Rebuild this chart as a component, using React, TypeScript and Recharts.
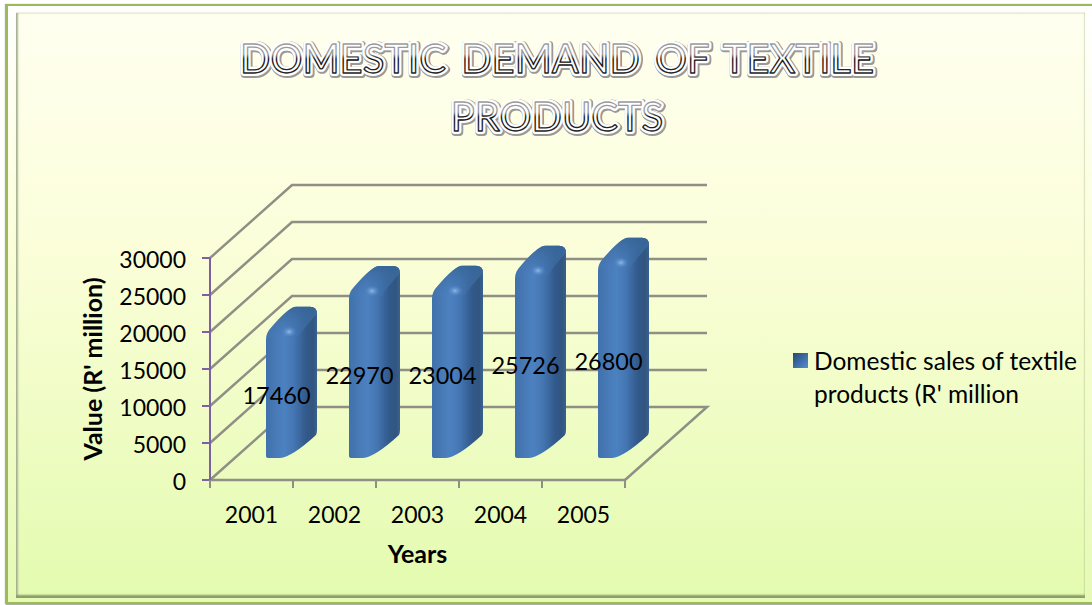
import React from "react";
import {
  BarChart,
  Bar,
  XAxis,
  YAxis,
  CartesianGrid,
  Legend,
  LabelList,
} from "recharts";

const years: string[] = ["2001", "2002", "2003", "2004", "2005"];
const sales: number[] = [17460, 22970, 23004, 25726, 26800];
const valueTicks: number[] = [0, 5000, 10000, 15000, 20000, 25000, 30000];
const titleLines: string[] = ["DOMESTIC DEMAND OF TEXTILE", "PRODUCTS"];
const seriesName = "Domestic sales of textile products (R' million";

const rows = years.map((year, i) => ({ year, sales: sales[i] }));

const FONT = "Lato, 'Open Sans', sans-serif";
const WALL_DX = 82;
const WALL_DY = 73;
const BAND = 83;
const GRID = "#8f8f85";

// back wall line + diagonal on the side wall, floor gets the closing diagonal too
const GridLine = (props: any) => {
  const { x1, x2, y1 } = props;
  const back = y1 - WALL_DY;
  const isFloor = y1 > 470;
  const pts = [
    `${x1},${y1}`,
    `${x1 + WALL_DX},${back}`,
    `${x2 + WALL_DX},${back}`,
  ];
  if (isFloor) pts.push(`${x2},${y1}`);
  return <polyline points={pts.join(" ")} fill="none" stroke={GRID} strokeWidth={2.5} />;
};

// fake 3D rounded column, the geometry comes from the bar rect recharts hands over
const Column = (props: any) => {
  const { x, y, width, height } = props;
  const x0 = x + 30;
  const top = y - 22;
  const bottom = y + height - 22;
  const xr = x0 + width;
  const dx = 20;
  const back = top - 22;
  const outline = `M${x0},${bottom - 2}
    Q${x0},${bottom} ${x0 + 3},${bottom}
    L${x0 + 14},${bottom}
    Q${x0 + 26},${bottom - 1} ${xr + dx - 1},${bottom - 23}
    Q${xr + dx},${bottom - 25} ${xr + dx},${bottom - 28}
    L${xr + dx},${back + 7}
    Q${xr + dx},${back} ${xr + dx - 7},${back}
    L${x0 + 30},${back}
    Q${x0 + 23},${back} ${x0 + 5},${top - 1}
    Q${x0},${top + 4} ${x0},${top + 11}
    Z`;
  const cap = `M${x0},${top + 11}
    Q${x0},${top + 4} ${x0 + 5},${top - 1}
    Q${x0 + 23},${back} ${x0 + 30},${back}
    L${xr + dx - 7},${back}
    Q${xr + dx},${back} ${xr + dx},${back + 7}
    Q${xr + 10},${top - 4} ${xr + 1},${top + 8}
    Q${x0 + 14},${top + 3} ${x0},${top + 11}
    Z`;
  return (
    <g filter="url(#soften)">
      <path d={outline} fill="url(#bodyFill)" />
      <path d={cap} fill="url(#capFill)" />
      <ellipse cx={x0 + 23} cy={top + 3} rx={8} ry={6} fill="url(#glint)" />
    </g>
  );
};

const YearTick = (props: any) => {
  const { x, y, payload, index } = props;
  const edge = x - BAND / 2;
  return (
    <g>
      <line x1={edge} y1={480} x2={edge} y2={488} stroke={GRID} strokeWidth={2} />
      {index === years.length - 1 && (
        <line x1={edge + BAND} y1={480} x2={edge + BAND} y2={488} stroke={GRID} strokeWidth={2} />
      )}
      <text x={x} y={y + 35} textAnchor="middle" fontFamily={FONT} fontSize={23} fill="#000">
        {payload.value}
      </text>
    </g>
  );
};

const ValueLabel = (props: any) => {
  const { x, y, width, height, value } = props;
  return (
    <text
      x={x + width / 2 + 25}
      y={y + height / 2 - 20}
      textAnchor="middle"
      dominantBaseline="central"
      fontFamily={FONT}
      fontSize={23.5}
      fill="#000"
    >
      {value}
    </text>
  );
};

const LegendBox = () => (
  <div style={{ display: "flex", fontFamily: FONT, fontSize: 24.5, lineHeight: "33px", color: "#000" }}>
    <span
      style={{
        width: 15,
        height: 15,
        marginTop: 9,
        marginRight: 6,
        flexShrink: 0,
        background: "linear-gradient(135deg,#27486f 0%,#3c6aa5 50%,#5a8cd0 100%)",
      }}
    />
    <span>{seriesName}</span>
  </div>
);

const TitleLine = ({ text, y }: { text: string; y: number }) => {
  const base = {
    x: 557,
    y,
    textAnchor: "middle" as const,
    fontFamily: FONT,
    fontSize: 40,
    wordSpacing: 5,
    strokeLinejoin: "round" as const,
  };
  return (
    <g>
      <text {...base} fill="#999" stroke="#999" strokeWidth={8} transform="translate(1,1)" filter="url(#soften)">{text}</text>
      <text {...base} fill="#fff" stroke="#fff" strokeWidth={6}>{text}</text>
      <text {...base} fill="#fff" stroke="url(#titleStroke)" strokeWidth={1.3}>{text}</text>
    </g>
  );
};

export default function App() {
  return (
    <div
      style={{
        position: "absolute",
        left: 0,
        top: 0,
        width: 1092,
        height: 605,
        overflow: "hidden",
        background: "#fff",
      }}
    >
      <div
        style={{
          position: "absolute",
          left: 6,
          top: 4,
          right: -3,
          bottom: 1,
          borderStyle: "solid",
          borderWidth: 2,
          borderColor: "#9bbb59",
          boxSizing: "border-box",
          background: "linear-gradient(180deg,#ffffff 0%,#fbfed9 40%,#e6fab6 100%)",
          boxShadow: "-1px 0 1px #aaa, 0 2px 1px #a8b59a",
        }}
      />
      <div
        style={{
          position: "absolute",
          left: 16,
          top: 13,
          right: 7,
          bottom: 7,
          background: "linear-gradient(180deg,#fffff0 0%,#fbfed9 40%,#e3fbaf 100%)",
          boxShadow: "inset 0 -3px 2px #8a9e6a, inset 2px 0 2px #b0b8a0, 0 -1px 1px #f0f0e0",
        }}
      />
      <div style={{ position: "absolute", left: 0, top: 0 }}>
        <BarChart
          width={1092}
          height={605}
          data={rows}
          barSize={31}
          margin={{ top: 258, right: 177, bottom: 60, left: 110 }}
        >
          <defs>
            <linearGradient id="bodyFill" x1="0" x2="1" y1="0" y2="0">
              <stop offset="0" stopColor="#4071ab" />
              <stop offset="0.35" stopColor="#4d81c0" />
              <stop offset="0.55" stopColor="#4476b2" />
              <stop offset="0.78" stopColor="#325a8c" />
              <stop offset="0.92" stopColor="#31567f" />
              <stop offset="1" stopColor="#3a6190" />
            </linearGradient>
            <linearGradient id="capFill" x1="0" x2="0" y1="0" y2="1">
              <stop offset="0" stopColor="#386699" stopOpacity={0.9} />
              <stop offset="1" stopColor="#4a7dbb" stopOpacity={0.2} />
            </linearGradient>
            <radialGradient id="glint">
              <stop offset="0" stopColor="#8fb8e8" />
              <stop offset="1" stopColor="#4a80c2" stopOpacity={0} />
            </radialGradient>
            <linearGradient id="titleStroke" x1="0" x2="0" y1="0" y2="1">
              <stop offset="0.42" stopColor="#9a9a9a" />
              <stop offset="0.52" stopColor="#111" />
              <stop offset="1" stopColor="#333" />
            </linearGradient>
            <filter id="soften" x="-10%" y="-10%" width="120%" height="120%">
              <feGaussianBlur stdDeviation="0.6" />
            </filter>
          </defs>
          {titleLines.map((line, i) => (
            <TitleLine key={line} text={line} y={73 + i * 58} />
          ))}
          <CartesianGrid vertical={false} horizontal={GridLine} />
          <XAxis
            dataKey="year"
            height={65}
            interval={0}
            axisLine={{ stroke: GRID, strokeWidth: 2.5 }}
            tickLine={false}
            tick={YearTick}
            label={{
              value: "Years",
              position: "insideBottom",
              offset: -18,
              style: { fontFamily: FONT, fontSize: 25, fontWeight: 700, fill: "#000" },
            }}
          />
          <YAxis
            width={100}
            domain={[0, 30000]}
            ticks={valueTicks}
            interval={0}
            tickSize={8}
            tickMargin={16}
            axisLine={{ stroke: "#7d5fa3", strokeWidth: 2 }}
            tickLine={{ stroke: "#7d5fa3", strokeWidth: 2 }}
            tick={{ fontFamily: FONT, fontSize: 23, fill: "#000", dy: 2 }}
            label={{
              value: "Value (R' million)",
              angle: -90,
              position: "insideLeft",
              offset: -17,
              style: { fontFamily: FONT, fontSize: 25, fontWeight: 700, fill: "#000", textAnchor: "middle" },
            }}
          />
          <Legend
            layout="vertical"
            align="right"
            verticalAlign="middle"
            content={LegendBox}
            wrapperStyle={{ left: 793, top: 344, width: 290 }}
          />
          <Bar dataKey="sales" name={seriesName} shape={Column} isAnimationActive={false}>
            <LabelList dataKey="sales" content={ValueLabel} />
          </Bar>
        </BarChart>
      </div>
    </div>
  );
}
